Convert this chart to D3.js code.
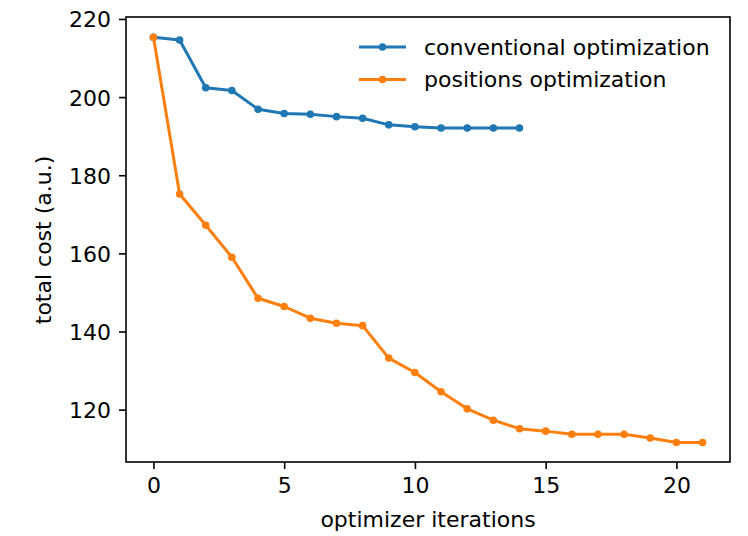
<!DOCTYPE html>
<html lang="en">
<head>
<meta charset="UTF-8">
<script src="https://d3js.org/d3.v7.min.js"></script>
<style>
  body { margin: 0; background: #fff; font-family: "DejaVu Sans", sans-serif; }
  svg text { font-family: "DejaVu Sans", sans-serif; fill: #000; }
</style>
</head>
<body>
<svg id="chart" width="748" height="536"></svg>
<script>
// data
const conventional = [215.3, 214.6, 202.4, 201.7, 196.9, 195.8, 195.6, 195.0, 194.6, 192.9, 192.4, 192.1, 192.1, 192.1, 192.1];
const positions = [215.3, 175.2, 167.2, 159.0, 148.5, 146.4, 143.4, 142.1, 141.5, 133.2, 129.5, 124.6, 120.2, 117.3, 115.1, 114.5, 113.7, 113.7, 113.7, 112.75, 111.6, 111.6];
const xTicks = [0, 5, 10, 15, 20];
const yTicks = [120, 140, 160, 180, 200, 220];
const seriesNames = ["conventional optimization", "positions optimization"];
const colors = ["#1f77b4", "#ff7f0e"];

const svg = d3.select("#chart");
const plotLeft = 126, plotRight = 730, plotTop = 17, plotBottom = 462;
const fs = "22px";

const x = d3.scaleLinear().domain([-1.05, 22.05]).range([plotLeft, plotRight]);
const y = d3.scaleLinear().domain([106.6, 220.5]).range([plotBottom, plotTop]);

// axes
const xAxis = svg.append("g").attr("transform", `translate(0,${plotBottom})`)
  .call(d3.axisBottom(x).tickValues(xTicks).tickSize(7).tickPadding(8).tickSizeOuter(0));
const yAxis = svg.append("g").attr("transform", `translate(${plotLeft},0)`)
  .call(d3.axisLeft(y).tickValues(yTicks).tickSize(7).tickPadding(8).tickSizeOuter(0));
[xAxis, yAxis].forEach(g => {
  g.select(".domain").remove();
  g.selectAll("line").attr("stroke", "#000").attr("stroke-width", 1.6);
  g.selectAll("text").style("font-size", fs).attr("fill", "#000");
});
yAxis.selectAll("text").attr("dy", "0.36em");

// frame
svg.append("rect").attr("x", plotLeft).attr("y", plotTop)
  .attr("width", plotRight - plotLeft).attr("height", plotBottom - plotTop)
  .attr("fill", "none").attr("stroke", "#000").attr("stroke-width", 1.6);

// lines
const line = d3.line().x((d, i) => x(i)).y(d => y(d));
[conventional, positions].forEach((s, k) => {
  const g = svg.append("g");
  g.append("path").datum(s).attr("d", line)
    .attr("fill", "none").attr("stroke", colors[k]).attr("stroke-width", 3)
    .attr("stroke-linejoin", "round");
  g.selectAll("circle").data(s).join("circle")
    .attr("cx", (d, i) => x(i)).attr("cy", d => y(d)).attr("r", 3.8)
    .attr("fill", colors[k]);
});

// axis labels
svg.append("text").attr("x", (plotLeft + plotRight) / 2).attr("y", 527)
  .attr("text-anchor", "middle").style("font-size", fs).text("optimizer iterations");
svg.append("text").attr("transform", "translate(51,240) rotate(-90)")
  .attr("text-anchor", "middle").style("font-size", fs).text("total cost (a.u.)");

// legend
seriesNames.forEach((name, k) => {
  const ly = 47 + k * 32.5;
  svg.append("line").attr("x1", 359).attr("x2", 406).attr("y1", ly).attr("y2", ly)
    .attr("stroke", colors[k]).attr("stroke-width", 3);
  svg.append("circle").attr("cx", 382.5).attr("cy", ly).attr("r", 3.8).attr("fill", colors[k]);
  svg.append("text").attr("x", 424).attr("y", ly).attr("dy", "0.36em")
    .style("font-size", fs).text(name);
});
</script>
</body>
</html>
